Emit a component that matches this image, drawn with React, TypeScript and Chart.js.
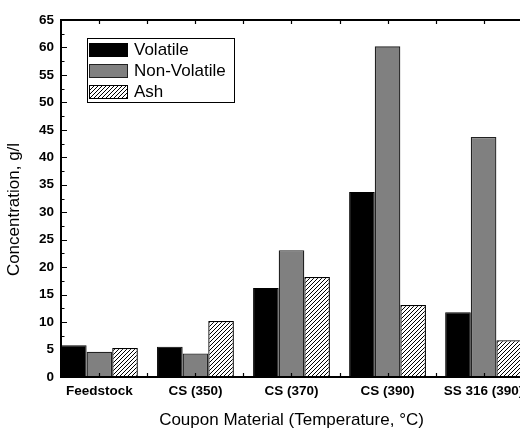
import React, { useEffect, useRef } from 'react';
import { Chart, registerables } from 'chart.js';

Chart.register(...registerables);

const categories = ['Feedstock', 'CS (350)', 'CS (370)', 'CS (390)', 'SS 316 (390)'];
const volatileValues = [5.8, 5.5, 16.2, 33.7, 11.8];
const nonVolatileValues = [4.6, 4.3, 23.1, 60.2, 43.7];
const ashValues = [5.3, 10.2, 18.2, 13.1, 6.7];
const seriesLabels = ['Volatile', 'Non-Volatile', 'Ash'];
const yTickValues = [0, 5, 10, 15, 20, 25, 30, 35, 40, 45, 50, 55, 60, 65];
const xTitle = 'Coupon Material (Temperature, \u00B0C)';
const yTitle = 'Concentration, g/l';

const FONT = '"Liberation Sans", Arial, sans-serif';

function makeHatch(): CanvasPattern | string {
  const c = document.createElement('canvas');
  c.width = 4;
  c.height = 4;
  const g = c.getContext('2d');
  if (!g) return '#fff';
  g.fillStyle = '#fff';
  g.fillRect(0, 0, 4, 4);
  g.strokeStyle = '#000';
  g.lineWidth = 1;
  g.beginPath();
  g.moveTo(0, 4);
  g.lineTo(4, 0);
  g.moveTo(-1, 1);
  g.lineTo(1, -1);
  g.moveTo(3, 5);
  g.lineTo(5, 3);
  g.stroke();
  return g.createPattern(c, 'repeat') || '#fff';
}

const framePlugin = {
  id: 'frameAndTicks',
  afterDatasetsDraw(chart: any) {
    const { ctx, chartArea: a, scales } = chart;
    const xs = scales.x;
    const ys = scales.y;
    ctx.save();
    ctx.strokeStyle = '#000';
    ctx.lineWidth = 2;
    ctx.strokeRect(a.left, a.top, a.right - a.left, a.bottom - a.top);
    ctx.lineWidth = 1.2;
    ctx.beginPath();
    for (let v = ys.min; v <= ys.max + 1e-9; v += 2.5) {
      const py = Math.round(ys.getPixelForValue(v)) + 0.5;
      const len = Math.abs(v % 5) < 1e-9 ? 6 : 3.5;
      ctx.moveTo(a.left, py);
      ctx.lineTo(a.left + len, py);
    }
    for (let v = 0; v <= categories.length - 1 + 1e-9; v += 0.5) {
      const px = Math.round(xs.getPixelForValue(v)) + 0.5;
      ctx.moveTo(px, a.bottom);
      ctx.lineTo(px, a.bottom - 4);
      ctx.moveTo(px, a.top);
      ctx.lineTo(px, a.top + 4);
    }
    ctx.stroke();
    ctx.restore();
  },
  afterDraw(chart: any) {
    const { ctx, chartArea: a } = chart;
    ctx.save();
    const bx = a.left + 26;
    const by = a.top + 18;
    const bw = 147;
    const bh = 64;
    ctx.fillStyle = '#fff';
    ctx.fillRect(bx, by, bw, bh);
    ctx.strokeStyle = '#000';
    ctx.lineWidth = 1;
    ctx.strokeRect(bx + 0.5, by + 0.5, bw, bh);
    chart.data.datasets.forEach((ds: any, i: number) => {
      const sy = by + 5 + i * 21;
      ctx.fillStyle = ds.backgroundColor;
      ctx.fillRect(bx + 2, sy, 39, 14);
      ctx.strokeStyle = ds.borderColor;
      ctx.lineWidth = 1;
      ctx.strokeRect(bx + 2.5, sy + 0.5, 38, 13);
      ctx.fillStyle = '#000';
      ctx.font = `17px ${FONT}`;
      ctx.textAlign = 'left';
      ctx.textBaseline = 'middle';
      ctx.fillText(ds.label, bx + 47, sy + 7.5);
    });
    ctx.fillStyle = '#000';
    ctx.font = `17px ${FONT}`;
    ctx.textAlign = 'center';
    ctx.textBaseline = 'middle';
    ctx.fillText(xTitle, (a.left + a.right) / 2, 420);
    ctx.translate(14, (a.top + a.bottom) / 2 + 11);
    ctx.rotate(-Math.PI / 2);
    ctx.fillText(yTitle, 0, 0);
    ctx.restore();
  },
};

export default function App() {
  const ref = useRef<HTMLCanvasElement | null>(null);

  useEffect(() => {
    if (!ref.current) return;
    const hatch = makeHatch();
    const toPoints = (arr: number[]) => arr.map((y, i) => ({ x: i, y }));
    const chart = new Chart(ref.current, {
      type: 'bar',
      data: {
        datasets: [
          {
            label: seriesLabels[0],
            data: toPoints(volatileValues),
            backgroundColor: '#000000',
            borderColor: '#000000',
            borderWidth: 1,
          },
          {
            label: seriesLabels[1],
            data: toPoints(nonVolatileValues),
            backgroundColor: '#808080',
            borderColor: '#222222',
            borderWidth: 1.3,
          },
          {
            label: seriesLabels[2],
            data: toPoints(ashValues),
            backgroundColor: hatch as any,
            borderColor: '#000000',
            borderWidth: 1.3,
          },
        ] as any,
      },
      options: {
        animation: false,
        responsive: false,
        devicePixelRatio: 1,
        datasets: { bar: { categoryPercentage: 0.8, barPercentage: 1.0 } } as any,
        layout: { padding: { left: 0, top: 20, right: 18, bottom: 0 } },
        plugins: { legend: { display: false }, tooltip: { enabled: false }, title: { display: false } },
        scales: {
          x: {
            type: 'linear',
            offset: false,
            min: -0.4,
            max: categories.length - 1 + 0.4,
            afterBuildTicks: (s: any) => {
              s.ticks = categories.map((_, i) => ({ value: i }));
            },
            afterFit: (s: any) => {
              s.height = 53;
            },
            grid: { display: false, drawTicks: false, offset: false },
            border: { display: false },
            ticks: {
              autoSkip: false,
              maxRotation: 0,
              minRotation: 0,
              padding: 6,
              color: '#000',
              font: { family: FONT, size: 13.5, weight: 'bold' },
              callback: (v: any) => categories[Math.round(Number(v))] ?? '',
            },
          },
          y: {
            min: 0,
            max: 65,
            afterBuildTicks: (s: any) => {
              s.ticks = yTickValues.map((v) => ({ value: v }));
            },
            afterFit: (s: any) => {
              s.width = 61;
            },
            grid: { display: false, drawTicks: false },
            border: { display: false },
            ticks: {
              padding: 7,
              color: '#000',
              font: { family: FONT, size: 13.5, weight: 'bold' },
            },
          },
        } as any,
      },
      plugins: [framePlugin],
    });
    return () => chart.destroy();
  }, []);

  return (
    <div
      style={{
        position: 'fixed',
        left: 0,
        top: 0,
        width: 520,
        height: 430,
        overflow: 'hidden',
        background: '#fff',
      }}
    >
      <canvas ref={ref} width={540} height={430} style={{ display: 'block', width: 540, height: 430 }} />
    </div>
  );
}
